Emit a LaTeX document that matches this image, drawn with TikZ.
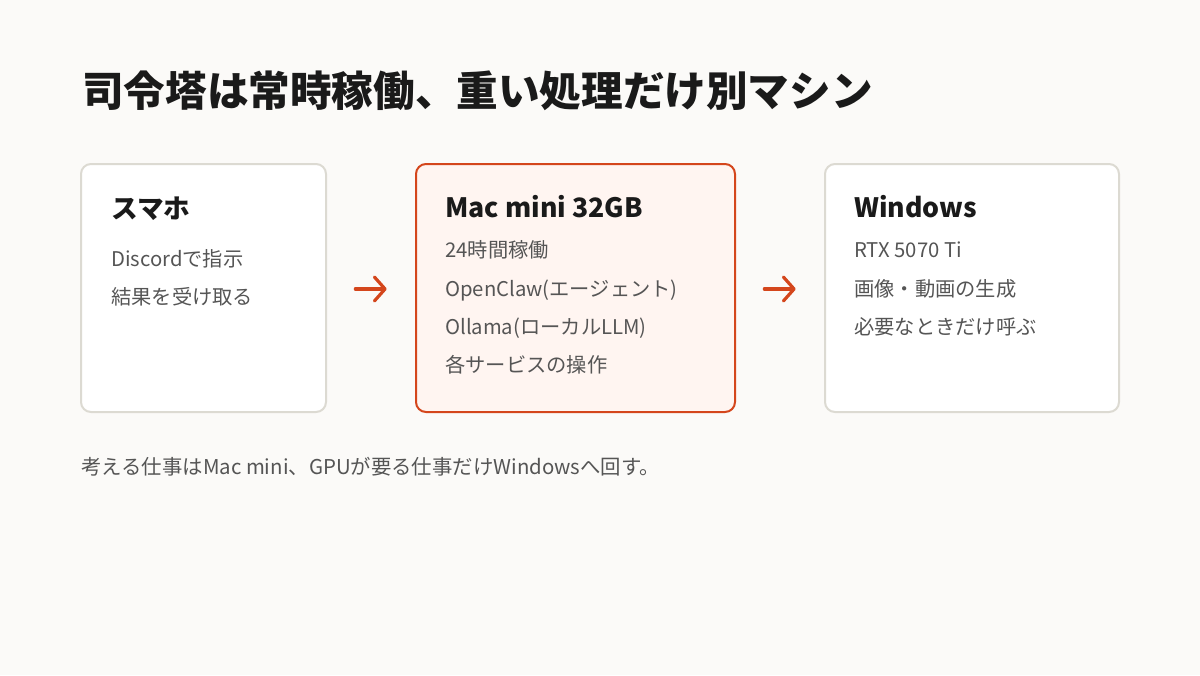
\documentclass[tikz,border=0pt]{standalone}
\usepackage{fontspec}
\setmainfont{Noto Sans CJK JP}
\usetikzlibrary{arrows.meta}
\definecolor{bg}{HTML}{FBFAF8}
\definecolor{ink}{HTML}{1A1A1A}
\definecolor{body}{HTML}{555555}
\definecolor{edge}{HTML}{DCDAD2}
\definecolor{accent}{HTML}{D4461C}
\definecolor{accfill}{HTML}{FFF5F1}
\begin{document}
\begin{tikzpicture}[x=0.75pt,y=-0.75pt,
  card/.style={draw=edge,line width=1.5pt,fill=white,rounded corners=7.5pt},
  hotcard/.style={draw=accent,line width=1.5pt,fill=accfill,rounded corners=7.5pt},
  ttl/.style={anchor=base west,inner sep=0pt,text=ink,font=\fontsize{31.2}{36}\selectfont\bfseries},
  head/.style={anchor=base west,inner sep=0pt,text=ink,font=\fontsize{20}{24}\selectfont\bfseries},
  line/.style={anchor=base west,inner sep=0pt,text=body,font=\fontsize{15.2}{18}\selectfont},
  foot/.style={anchor=base west,inner sep=0pt,text=body,font=\fontsize{15.3}{18}\selectfont},
  arr/.style={draw=accent,line width=2.4pt,line cap=round,-{Straight Barb[length=8pt,width=18pt,line cap=round,line join=round]}}
]
\fill[bg] (0,0) rectangle (1200,675);
\useasboundingbox (0,0) rectangle (1200,675);

\node[ttl] (title) at (82,106) {司令塔は常時稼働、重い処理だけ別マシン};

\draw[card] (81,164) rectangle (326,412);
\draw[hotcard] (416,164) rectangle (735,412);
\draw[card] (825,164) rectangle (1119,412);
\coordinate (b1e) at (326,289);
\coordinate (b2w) at (416,289);
\coordinate (b2e) at (735,289);
\coordinate (b3w) at (825,289);

\node[head] (h1) at (111,218) {スマホ};
\node[line] (l11) at (111,266) {Discordで指示};
\node[line] (l12) at (111,304) {結果を受け取る};

\node[head] (h2) at (445,217) {Mac mini 32GB};
\node[line] (l21) at (445,257) {24時間稼働};
\node[line] (l22) at (445,296) {OpenClaw(エージェント)};
\node[line] (l23) at (445,334) {Ollama(ローカルLLM)};
\node[line] (l24) at (445,372) {各サービスの操作};

\node[head] (h3) at (854,217) {Windows};
\node[line] (l31) at (854,257) {RTX 5070 Ti};
\node[line] (l32) at (854,296) {画像・動画の生成};
\node[line] (l33) at (854,334) {必要なときだけ呼ぶ};

\draw[arr] ([xshift=22pt]b1e) -- ([xshift=-22pt]b2w);
\draw[arr] ([xshift=22pt]b2e) -- ([xshift=-22pt]b3w);

\node[foot] (note) at (81,474) {考える仕事はMac mini、GPUが要る仕事だけWindowsへ回す。};
\end{tikzpicture}
\end{document}
